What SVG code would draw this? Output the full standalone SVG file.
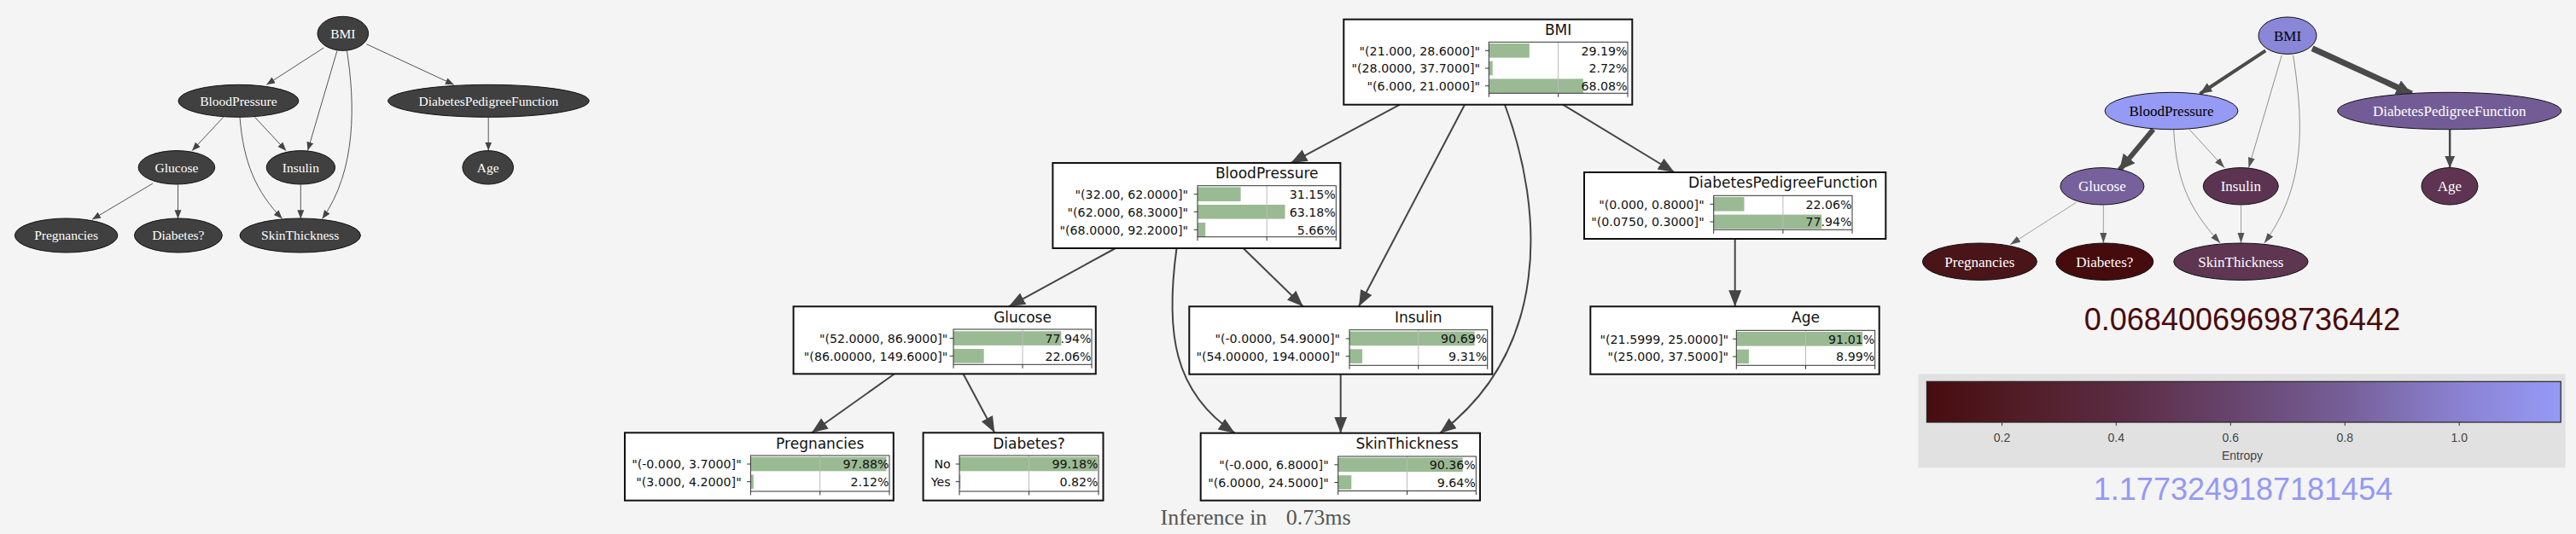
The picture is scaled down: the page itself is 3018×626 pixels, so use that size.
<svg xmlns="http://www.w3.org/2000/svg" width="3018" height="626" viewBox="0 0 3018 626">
<style>
.lnode{fill:#404040;stroke:#111;stroke-width:1}
.ltxt{font-family:"Liberation Serif",serif;font-size:15.5px;fill:#fff;text-anchor:middle}
.ledge{fill:none;stroke:#555;stroke-width:1}
.box{fill:#fff;stroke:#111;stroke-width:2}
.ttl{font-family:"DejaVu Sans",sans-serif;font-size:17px;fill:#111;text-anchor:middle}
.lab{font-family:"DejaVu Sans",sans-serif;font-size:14.2px;fill:#111;text-anchor:end}
.pct{font-family:"DejaVu Sans",sans-serif;font-size:14.2px;fill:#111;text-anchor:end}
.bar{fill:#9aba93}
.grid{stroke:#bbb;stroke-width:1}
.ax{fill:none;stroke:#333;stroke-width:1}
.tk{stroke:#333;stroke-width:1}
.medge{fill:none;stroke:#444;stroke-width:2}
.rtxtw{font-family:"Liberation Serif",serif;font-size:17px;fill:#fff;text-anchor:middle}
.rtxtb{font-family:"Liberation Serif",serif;font-size:17px;fill:#000;text-anchor:middle}
.rnode{stroke:#111;stroke-width:1}
.redge{fill:none;stroke:#4a4a4a}
.cbt{font-family:"Liberation Sans",sans-serif;font-size:14px;fill:#444;text-anchor:middle}
.big{font-family:"Liberation Sans",sans-serif;font-size:36px;text-anchor:middle}
</style>
<defs>
<marker id="al" markerUnits="userSpaceOnUse" markerWidth="12" markerHeight="10" refX="10" refY="4" orient="auto"><path d="M0,0 L10,4 L0,8 z" fill="#444"/></marker>
<marker id="am" markerUnits="userSpaceOnUse" markerWidth="22" markerHeight="18" refX="19" refY="7.5" orient="auto"><path d="M0,0 L19,7.5 L0,15 z" fill="#444"/></marker>
<marker id="ars" markerUnits="userSpaceOnUse" markerWidth="14" markerHeight="10" refX="12" refY="4" orient="auto"><path d="M0,0 L12,4 L0,8 z" fill="#555"/></marker>
<marker id="arm" markerUnits="userSpaceOnUse" markerWidth="16" markerHeight="14" refX="14" refY="6" orient="auto"><path d="M0,0 L14,6 L0,12 z" fill="#4a4a4a"/></marker>
<marker id="arb" markerUnits="userSpaceOnUse" markerWidth="22" markerHeight="20" refX="18" refY="9" orient="auto"><path d="M0,0 L18,9 L0,18 z" fill="#4a4a4a"/></marker>
<linearGradient id="cg" x1="0" y1="0" x2="1" y2="0">
<stop offset="0" stop-color="#470c0e"/>
<stop offset="0.12" stop-color="#501a22"/>
<stop offset="0.3" stop-color="#5a2b42"/>
<stop offset="0.48" stop-color="#67446c"/>
<stop offset="0.66" stop-color="#765f98"/>
<stop offset="0.84" stop-color="#8a82d2"/>
<stop offset="1" stop-color="#959af6"/>
</linearGradient>
</defs>
<rect x="0" y="0" width="3018" height="626" fill="#f4f4f4"/>

<!-- LEFT GRAPH -->
<g id="left-edges">
<path class="ledge" d="M379.3,56 L312.3,99.3" marker-end="url(#al)"/>
<path class="ledge" d="M395,59.3 L360.5,176.5" marker-end="url(#al)"/>
<path class="ledge" d="M406.4,59.3 C416,120 418,200 377.5,256.5" marker-end="url(#al)"/>
<path class="ledge" d="M429.4,51.7 L531.8,99.3" marker-end="url(#al)"/>
<path class="ledge" d="M261.7,137.3 L225,176.7" marker-end="url(#al)"/>
<path class="ledge" d="M298.5,137.3 L335.2,176.7" marker-end="url(#al)"/>
<path class="ledge" d="M281,137.3 C285,190 300,225 330.6,256.3" marker-end="url(#al)"/>
<path class="ledge" d="M179,215 L108,257.3" marker-end="url(#al)"/>
<path class="ledge" d="M208.5,216.5 L208.5,256.3" marker-end="url(#al)"/>
<path class="ledge" d="M352.3,216.5 L352.3,256.3" marker-end="url(#al)"/>
<path class="ledge" d="M572.2,137.3 L572.2,176.5" marker-end="url(#al)"/>
</g>
<g id="l-BMI"><ellipse class="lnode" cx="401.8" cy="39.3" rx="29.8" ry="20"/><text class="ltxt" x="401.8" y="44.5">BMI</text></g>
<g id="l-BloodPressure"><ellipse class="lnode" cx="279.4" cy="118.3" rx="70.5" ry="19"/><text class="ltxt" x="279.4" y="123.5">BloodPressure</text></g>
<g id="l-DiabetesPedigreeFunction"><ellipse class="lnode" cx="572.4" cy="118.3" rx="117.8" ry="19"/><text class="ltxt" x="572.4" y="123.5">DiabetesPedigreeFunction</text></g>
<g id="l-Glucose"><ellipse class="lnode" cx="206.9" cy="196.3" rx="44.8" ry="19.7"/><text class="ltxt" x="206.9" y="201.5">Glucose</text></g>
<g id="l-Insulin"><ellipse class="lnode" cx="352.4" cy="196.3" rx="40.2" ry="19.7"/><text class="ltxt" x="352.4" y="201.5">Insulin</text></g>
<g id="l-Age"><ellipse class="lnode" cx="571.7" cy="196.3" rx="29.8" ry="19.7"/><text class="ltxt" x="571.7" y="201.5">Age</text></g>
<g id="l-Pregnancies"><ellipse class="lnode" cx="77.6" cy="276" rx="60.2" ry="20"/><text class="ltxt" x="77.6" y="281.2">Pregnancies</text></g>
<g id="l-Diabetes"><ellipse class="lnode" cx="208.9" cy="276" rx="51.4" ry="20"/><text class="ltxt" x="208.9" y="281.2">Diabetes?</text></g>
<g id="l-SkinThickness"><ellipse class="lnode" cx="351.7" cy="276" rx="70.7" ry="20"/><text class="ltxt" x="351.7" y="281.2">SkinThickness</text></g>

<!-- MIDDLE GRAPH -->
<g id="mid-edges">
<path class="medge" d="M1640,122.7 L1512.4,191" marker-end="url(#am)"/>
<path class="medge" d="M1716,122.7 L1592,359.3" marker-end="url(#am)"/>
<path class="medge" d="M1763,122.7 C1810,250 1815,410 1687,507.7" marker-end="url(#am)"/>
<path class="medge" d="M1831,122.7 L1961.7,202" marker-end="url(#am)"/>
<path class="medge" d="M1307,291 L1182,359.3" marker-end="url(#am)"/>
<path class="medge" d="M1456.6,291 L1526.7,359.3" marker-end="url(#am)"/>
<path class="medge" d="M1378.5,291 C1365,390 1375,460 1446.7,507.7" marker-end="url(#am)"/>
<path class="medge" d="M1570.7,438.7 L1570.7,507.7" marker-end="url(#am)"/>
<path class="medge" d="M1048,438.3 L951,507.3" marker-end="url(#am)"/>
<path class="medge" d="M1128.5,438.3 L1165.3,507.3" marker-end="url(#am)"/>
<path class="medge" d="M2032.7,280 L2032.7,359.3" marker-end="url(#am)"/>
</g>

<g id="m-BMI">
<rect class="box" x="1574.3" y="22.7" width="338" height="100"/>
<text class="ttl" x="1825.6" y="41">BMI</text>
<rect class="bar" x="1744.3" y="51" width="47.5" height="16.6"/>
<rect class="bar" x="1744.3" y="71.7" width="4.4" height="16.6"/>
<rect class="bar" x="1744.3" y="92.4" width="110.7" height="16.6"/>
<line class="grid" x1="1825.6" y1="49.3" x2="1825.6" y2="109.3"/>
<rect class="ax" x="1744.3" y="49.3" width="162.7" height="60"/>
<path class="tk" d="M1740,59.3h4.3M1740,80h4.3M1740,100.7h4.3M1744.3,109.3v4.5M1825.6,109.3v4.5M1907,109.3v4.5"/>
<text class="lab" x="1734" y="64.5">"(21.000, 28.6000]"</text>
<text class="lab" x="1734" y="85.2">"(28.0000, 37.7000]"</text>
<text class="lab" x="1734" y="105.9">"(6.000, 21.0000]"</text>
<text class="pct" x="1906.5" y="64.5">29.19%</text>
<text class="pct" x="1906.5" y="85.2">2.72%</text>
<text class="pct" x="1906.5" y="105.9">68.08%</text>
</g>

<g id="m-BloodPressure">
<rect class="box" x="1233.4" y="191" width="337" height="100"/>
<text class="ttl" x="1484.2" y="209.3">BloodPressure</text>
<rect class="bar" x="1403" y="219.4" width="50.6" height="16.6"/>
<rect class="bar" x="1403" y="240" width="102.5" height="16.6"/>
<rect class="bar" x="1403" y="261" width="9.2" height="16.6"/>
<line class="grid" x1="1484.2" y1="217.7" x2="1484.2" y2="277.7"/>
<rect class="ax" x="1403" y="217.7" width="162.3" height="60"/>
<path class="tk" d="M1398.7,227.7h4.3M1398.7,248.3h4.3M1398.7,269.3h4.3M1403,277.7v4.5M1484.2,277.7v4.5M1565.3,277.7v4.5"/>
<text class="lab" x="1392" y="232.9">"(32.00, 62.0000]"</text>
<text class="lab" x="1392" y="253.5">"(62.000, 68.3000]"</text>
<text class="lab" x="1392" y="274.5">"(68.0000, 92.2000]"</text>
<text class="pct" x="1564.8" y="232.9">31.15%</text>
<text class="pct" x="1564.8" y="253.5">63.18%</text>
<text class="pct" x="1564.8" y="274.5">5.66%</text>
</g>

<g id="m-DiabetesPedigreeFunction">
<rect class="box" x="1856" y="202" width="353.3" height="78"/>
<text class="ttl" x="2088.9" y="220.3">DiabetesPedigreeFunction</text>
<rect class="bar" x="2007.7" y="231" width="35.8" height="16.6"/>
<rect class="bar" x="2007.7" y="251.6" width="126.5" height="16.6"/>
<line class="grid" x1="2088.9" y1="229.3" x2="2088.9" y2="269.3"/>
<rect class="ax" x="2007.7" y="229.3" width="162.3" height="40"/>
<path class="tk" d="M2003.4,239.3h4.3M2003.4,260h4.3M2007.7,269.3v4.5M2088.9,269.3v4.5M2170,269.3v4.5"/>
<text class="lab" x="1996.7" y="244.5">"(0.000, 0.8000]"</text>
<text class="lab" x="1996.7" y="265.2">"(0.0750, 0.3000]"</text>
<text class="pct" x="2169.5" y="244.5">22.06%</text>
<text class="pct" x="2169.5" y="265.2">77.94%</text>
</g>

<g id="m-Glucose">
<rect class="box" x="929.6" y="359.3" width="354.2" height="79"/>
<text class="ttl" x="1198" y="378.3">Glucose</text>
<rect class="bar" x="1117" y="388.3" width="126.3" height="16.6"/>
<rect class="bar" x="1117" y="409" width="35.7" height="16.6"/>
<line class="grid" x1="1198" y1="386" x2="1198" y2="427.3"/>
<rect class="ax" x="1117" y="386" width="162" height="41.3"/>
<path class="tk" d="M1112.7,396.6h4.3M1112.7,417.3h4.3M1117,427.3v4.5M1198,427.3v4.5M1279,427.3v4.5"/>
<text class="lab" x="1110.4" y="401.8">"(52.0000, 86.9000]"</text>
<text class="lab" x="1110.4" y="422.5">"(86.00000, 149.6000]"</text>
<text class="pct" x="1278.5" y="401.8">77.94%</text>
<text class="pct" x="1278.5" y="422.5">22.06%</text>
</g>

<g id="m-Insulin">
<rect class="box" x="1393.3" y="359.3" width="355" height="79.4"/>
<text class="ttl" x="1661.8" y="378.3">Insulin</text>
<rect class="bar" x="1581" y="388.6" width="146.6" height="16.6"/>
<rect class="bar" x="1581" y="409.3" width="15.1" height="16.6"/>
<line class="grid" x1="1661.8" y1="386.7" x2="1661.8" y2="428.3"/>
<rect class="ax" x="1581" y="386.7" width="161.7" height="41.6"/>
<path class="tk" d="M1576.7,397h4.3M1576.7,417.7h4.3M1581,428.3v4.5M1661.8,428.3v4.5M1742.7,428.3v4.5"/>
<text class="lab" x="1570" y="402.2">"(-0.0000, 54.9000]"</text>
<text class="lab" x="1570" y="422.9">"(54.00000, 194.0000]"</text>
<text class="pct" x="1742.2" y="402.2">90.69%</text>
<text class="pct" x="1742.2" y="422.9">9.31%</text>
</g>

<g id="m-Age">
<rect class="box" x="1863.3" y="359.3" width="338.4" height="79.4"/>
<text class="ttl" x="2115.5" y="378.3">Age</text>
<rect class="bar" x="2034.3" y="389" width="147.8" height="16.6"/>
<rect class="bar" x="2034.3" y="409.6" width="14.6" height="16.6"/>
<line class="grid" x1="2115.5" y1="387.3" x2="2115.5" y2="428.3"/>
<rect class="ax" x="2034.3" y="387.3" width="162.4" height="41"/>
<path class="tk" d="M2030,397.3h4.3M2030,418h4.3M2034.3,428.3v4.5M2115.5,428.3v4.5M2196.7,428.3v4.5"/>
<text class="lab" x="2025" y="402.5">"(21.5999, 25.0000]"</text>
<text class="lab" x="2025" y="423.2">"(25.000, 37.5000]"</text>
<text class="pct" x="2196.2" y="402.5">91.01%</text>
<text class="pct" x="2196.2" y="423.2">8.99%</text>
</g>

<g id="m-Pregnancies">
<rect class="box" x="732" y="507.3" width="314.8" height="79.4"/>
<text class="ttl" x="960.7" y="525.7">Pregnancies</text>
<rect class="bar" x="879.4" y="535.7" width="159.1" height="16.6"/>
<rect class="bar" x="879.4" y="556.4" width="3.4" height="16.6"/>
<line class="grid" x1="960.7" y1="534" x2="960.7" y2="576"/>
<rect class="ax" x="879.4" y="534" width="162.6" height="42"/>
<path class="tk" d="M875.1,544h4.3M875.1,564.7h4.3M879.4,576v4.5M960.7,576v4.5M1042,576v4.5"/>
<text class="lab" x="868.7" y="549.2">"(-0.000, 3.7000]"</text>
<text class="lab" x="868.7" y="569.9">"(3.000, 4.2000]"</text>
<text class="pct" x="1041.5" y="549.2">97.88%</text>
<text class="pct" x="1041.5" y="569.9">2.12%</text>
</g>

<g id="m-Diabetes">
<rect class="box" x="1081.6" y="507.3" width="210.9" height="79.4"/>
<text class="ttl" x="1205.5" y="525.7">Diabetes?</text>
<rect class="bar" x="1124" y="535.7" width="161.7" height="16.6"/>
<rect class="bar" x="1124" y="556.4" width="1.3" height="16.6"/>
<line class="grid" x1="1205.5" y1="534" x2="1205.5" y2="576"/>
<rect class="ax" x="1124" y="534" width="163" height="42"/>
<path class="tk" d="M1119.7,544h4.3M1119.7,564.7h4.3M1124,576v4.5M1205.5,576v4.5M1287,576v4.5"/>
<text class="lab" x="1113.7" y="549.2">No</text>
<text class="lab" x="1113.7" y="569.9">Yes</text>
<text class="pct" x="1286.5" y="549.2">99.18%</text>
<text class="pct" x="1286.5" y="569.9">0.82%</text>
</g>

<g id="m-SkinThickness">
<rect class="box" x="1406.7" y="507.7" width="327.3" height="79"/>
<text class="ttl" x="1648.5" y="525.7">SkinThickness</text>
<rect class="bar" x="1567.7" y="536.5" width="146" height="16.6"/>
<rect class="bar" x="1567.7" y="557.2" width="15.6" height="16.6"/>
<line class="grid" x1="1648.5" y1="535" x2="1648.5" y2="575.5"/>
<rect class="ax" x="1567.7" y="535" width="161.6" height="40.5"/>
<path class="tk" d="M1563.4,544.8h4.3M1563.4,565.5h4.3M1567.7,575.5v4.5M1648.5,575.5v4.5M1729.3,575.5v4.5"/>
<text class="lab" x="1556.7" y="550">"(-0.000, 6.8000]"</text>
<text class="lab" x="1556.7" y="570.7">"(6.0000, 24.5000]"</text>
<text class="pct" x="1728.8" y="550">90.36%</text>
<text class="pct" x="1728.8" y="570.7">9.64%</text>
</g>

<g id="inference">
<text x="1359.5" y="615" style="font-family:'Liberation Serif',serif;font-size:26px;fill:#555">Inference in</text>
<text x="1506.8" y="615" style="font-family:'Liberation Serif',serif;font-size:26px;fill:#555">0.73ms</text>
</g>

<!-- RIGHT GRAPH -->
<g id="right-edges">
<path class="redge" stroke-width="4" d="M2654.3,59.3 L2577.4,110" marker-end="url(#arm)"/>
<path class="redge" stroke-width="7" d="M2709,56.7 L2825.5,110" marker-end="url(#arb)"/>
<path class="redge" stroke-width="6" d="M2522.8,151.7 L2483.1,199.3" marker-end="url(#arb)"/>
<path class="redge" stroke-width="2.5" d="M2870.2,151.7 L2870.2,196.7" marker-end="url(#arm)"/>
<path class="redge" stroke-width="0.6" stroke="#777" d="M2673.2,65 L2634.5,196.7" marker-end="url(#ars)"/>
<path class="redge" stroke-width="0.6" stroke="#777" d="M2686.6,65 C2700,150 2700,220 2652.8,285" marker-end="url(#ars)"/>
<path class="redge" stroke-width="0.6" stroke="#888" d="M2565,151.7 L2606.2,196.7" marker-end="url(#ars)"/>
<path class="redge" stroke-width="0.6" stroke="#777" d="M2546.7,151.7 C2550,220 2570,250 2601.2,285" marker-end="url(#ars)"/>
<path class="redge" stroke-width="0.5" stroke="#aaa" d="M2432.5,237.3 L2355.1,286.7" marker-end="url(#ars)"/>
<path class="redge" stroke-width="0.5" stroke="#bbb" d="M2464.3,240.7 L2464.3,285" marker-end="url(#ars)"/>
<path class="redge" stroke-width="0.5" stroke="#bbb" d="M2625.5,240.7 L2625.5,285" marker-end="url(#ars)"/>
</g>
<g id="r-BMI"><ellipse class="rnode" fill="#8a86d8" cx="2680" cy="41.7" rx="34" ry="21.7"/><text class="rtxtb" x="2680" y="47.5">BMI</text></g>
<g id="r-BloodPressure"><ellipse class="rnode" fill="#959af5" cx="2544" cy="130" rx="78" ry="21.7"/><text class="rtxtb" x="2544" y="135.8">BloodPressure</text></g>
<g id="r-DiabetesPedigreeFunction"><ellipse class="rnode" fill="#735c96" cx="2869.7" cy="130" rx="131" ry="21.7"/><text class="rtxtw" x="2869.7" y="135.8">DiabetesPedigreeFunction</text></g>
<g id="r-Glucose"><ellipse class="rnode" fill="#77619c" cx="2462.9" cy="218.3" rx="49" ry="21.7"/><text class="rtxtw" x="2462.9" y="224.1">Glucose</text></g>
<g id="r-Insulin"><ellipse class="rnode" fill="#5c3452" cx="2625.3" cy="218.3" rx="44" ry="21.7"/><text class="rtxtw" x="2625.3" y="224.1">Insulin</text></g>
<g id="r-Age"><ellipse class="rnode" fill="#5e3452" cx="2870" cy="218.3" rx="33" ry="21.7"/><text class="rtxtw" x="2870" y="224.1">Age</text></g>
<g id="r-Pregnancies"><ellipse class="rnode" fill="#4a1518" cx="2319.4" cy="306.7" rx="67" ry="21.7"/><text class="rtxtw" x="2319.4" y="312.5">Pregnancies</text></g>
<g id="r-Diabetes"><ellipse class="rnode" fill="#460b0d" cx="2465.8" cy="306.7" rx="57" ry="21.7"/><text class="rtxtw" x="2465.8" y="312.5">Diabetes?</text></g>
<g id="r-SkinThickness"><ellipse class="rnode" fill="#5e3652" cx="2625.4" cy="306.7" rx="78.7" ry="21.7"/><text class="rtxtw" x="2625.4" y="312.5">SkinThickness</text></g>

<g id="entropy-legend">
<text class="big" x="2627" y="386.7" fill="#4a0a0a">0.06840069698736442</text>
<rect x="2247.4" y="438.3" width="758.2" height="110" fill="#e1e1e1"/>
<rect x="2257.4" y="447.3" width="742.8" height="47.7" fill="url(#cg)" stroke="#222" stroke-width="1.2"/>
<path class="tk" d="M2345.5,495v4M2479.3,495v4M2613.3,495v4M2747.3,495v4M2881.2,495v4"/>
<text class="cbt" x="2345.5" y="518">0.2</text>
<text class="cbt" x="2479.3" y="518">0.4</text>
<text class="cbt" x="2613.3" y="518">0.6</text>
<text class="cbt" x="2747.3" y="518">0.8</text>
<text class="cbt" x="2881.2" y="518">1.0</text>
<text class="cbt" x="2627" y="538.5">Entropy</text>
<text class="big" x="2628" y="585.5" fill="#9499f4">1.1773249187181454</text>
</g>
</svg>
